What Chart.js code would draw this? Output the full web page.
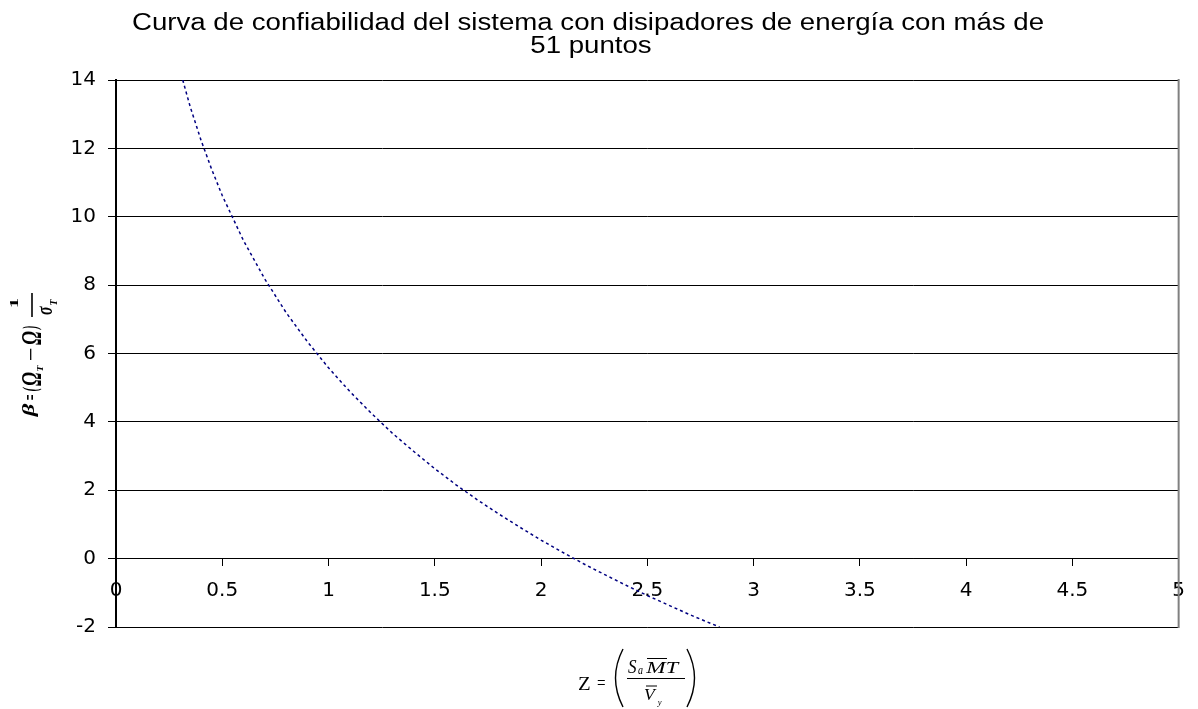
<!DOCTYPE html>
<html>
<head>
<meta charset="utf-8">
<script src="https://cdn.jsdelivr.net/npm/chart.js@4.4.1/dist/chart.umd.min.js"></script>
<style>
  html, body { margin: 0; padding: 0; background: #fff; }
  #wrap { width: 1198px; height: 709px; }
</style>
</head>
<body>
<div id="wrap"><canvas id="reliabilityChart" width="1198" height="709"></canvas></div>
<script>
// values
const zValues = [0.314, 0.35, 0.4, 0.45, 0.5, 0.6, 0.7, 0.8, 0.9, 1.0, 1.1, 1.2, 1.3, 1.4, 1.5,
  1.6, 1.7, 1.8, 1.9, 2.0, 2.1, 2.2, 2.3, 2.4, 2.5, 2.6, 2.7, 2.8, 2.84];
const betaValues = [14.0, 13.2, 12.24, 11.39, 10.62, 9.3, 8.18, 7.2, 6.35, 5.58, 4.89, 4.26, 3.67, 3.14, 2.63,
  2.16, 1.72, 1.31, 0.92, 0.54, 0.19, -0.15, -0.47, -0.78, -1.08, -1.36, -1.64, -1.9, -2.0];

const yTicks = [-2, 0, 2, 4, 6, 8, 10, 12, 14];
const xTicks = [0, 0.5, 1, 1.5, 2, 2.5, 3, 3.5, 4, 4.5, 5];

const titleLines = [
  "Curva de confiabilidad del sistema con disipadores de energía con más de",
  "51 puntos"
];

const points = zValues.map((z, i) => ({ x: z, y: betaValues[i] }));

// draw one glyph so its ink fills a box (screen coords); rotated = reads bottom to top
function fitGlyph(ctx, text, font, x0, y0, x1, y1, rotated) {
  ctx.save();
  ctx.font = font;
  ctx.textAlign = "left";
  ctx.textBaseline = "alphabetic";
  const m = ctx.measureText(text);
  const inkL = -m.actualBoundingBoxLeft, inkR = m.actualBoundingBoxRight;
  const inkT = -m.actualBoundingBoxAscent, inkB = m.actualBoundingBoxDescent;
  if (rotated) {
    ctx.translate(x0, y1);
    ctx.rotate(-Math.PI / 2);
    ctx.scale((y1 - y0) / (inkR - inkL), (x1 - x0) / (inkB - inkT));
  } else {
    ctx.translate(x0, y0);
    ctx.scale((x1 - x0) / (inkR - inkL), (y1 - y0) / (inkB - inkT));
  }
  ctx.fillText(text, -inkL, -inkT);
  ctx.restore();
}

function line(ctx, x0, y0, x1, y1, w) {
  ctx.lineWidth = w;
  ctx.beginPath();
  ctx.moveTo(x0, y0);
  ctx.lineTo(x1, y1);
  ctx.stroke();
}

const decorations = {
  id: "decorations",
  afterDraw(chart) {
    const ctx = chart.ctx;
    const area = chart.chartArea;

    // right edge of the plot frame
    ctx.save();
    ctx.strokeStyle = "#808080";
    line(ctx, area.right, area.top - 1, area.right, area.bottom + 1, 2);
    ctx.restore();

    // title (arial, a bit stretched like the original)
    ctx.save();
    ctx.fillStyle = "#000";
    ctx.font = '23px "Liberation Sans", Arial, sans-serif';
    ctx.textAlign = "left";
    ctx.textBaseline = "alphabetic";
    const w1 = ctx.measureText(titleLines[0]).width;
    const sx = 912 / w1;
    const w2 = ctx.measureText(titleLines[1]).width * sx;
    ctx.save();
    ctx.translate(132, 30);
    ctx.scale(sx, 1);
    ctx.fillText(titleLines[0], 0, 0);
    ctx.restore();
    ctx.save();
    ctx.translate(591 - w2 / 2, 53);
    ctx.scale(sx, 1);
    ctx.fillText(titleLines[1], 0, 0);
    ctx.restore();
    ctx.restore();

    // y axis title: β = (Ω_T − Ω) 1/σ_T  (rotated)
    ctx.save();
    ctx.fillStyle = "#000";
    ctx.strokeStyle = "#000";
    const bi = 'bold italic 28px "Liberation Serif", serif';
    const bs = 'bold italic 16px "Liberation Serif", serif';
    fitGlyph(ctx, "\u03b2", bi, 23, 403, 38, 417, true);
    fitGlyph(ctx, "=", bi, 27, 395, 33, 400, true);
    fitGlyph(ctx, "(", bi, 22, 387, 42, 391, true);
    fitGlyph(ctx, "\u03a9", bi, 22, 372, 41, 386, true);
    fitGlyph(ctx, "T", bs, 37, 365, 43, 371, true);
    fitGlyph(ctx, "\u2212", bi, 30, 348, 32, 360, true);
    fitGlyph(ctx, "\u03a9", bi, 22, 331, 41, 345, true);
    fitGlyph(ctx, ")", bi, 22, 326, 42, 330, true);
    line(ctx, 32, 293, 32, 317, 1.6);
    fitGlyph(ctx, "1", 'bold 16px "Liberation Serif", serif', 10, 298, 18, 307, true);
    fitGlyph(ctx, "\u03c3", bi, 40, 306, 52, 315, true);
    fitGlyph(ctx, "T", bs, 50, 299, 57, 305, true);
    ctx.restore();

    // x axis title: Z = ( S_a M̄ T / V̄_y )
    ctx.save();
    ctx.fillStyle = "#000";
    ctx.strokeStyle = "#000";
    const up = '19px "Liberation Serif", serif';
    const it = 'italic 19px "Liberation Serif", serif';
    const sub = 'italic 12px "Liberation Serif", serif';
    fitGlyph(ctx, "Z", up, 578, 677, 590, 690, false);
    fitGlyph(ctx, "=", up, 597, 680, 605, 685, false);
    ctx.lineWidth = 1.4;
    ctx.beginPath();
    ctx.moveTo(623, 649);
    ctx.quadraticCurveTo(608, 678, 623, 707);
    ctx.stroke();
    ctx.beginPath();
    ctx.moveTo(687, 649);
    ctx.quadraticCurveTo(702, 678, 687, 707);
    ctx.stroke();
    fitGlyph(ctx, "S", it, 628, 660, 637, 673, false);
    fitGlyph(ctx, "a", sub, 638, 668, 643, 674, false);
    fitGlyph(ctx, "M", it, 645, 661, 667, 673, false);
    line(ctx, 647, 658.5, 667, 658.5, 1);
    fitGlyph(ctx, "T", it, 667, 661, 680, 673, false);
    line(ctx, 627, 678.5, 685, 678.5, 1);
    fitGlyph(ctx, "V", it, 645, 688, 657, 700, false);
    line(ctx, 646, 686, 657, 686, 1);
    fitGlyph(ctx, "y", sub, 657, 701, 662, 707, false);
    ctx.restore();
  }
};

new Chart(document.getElementById("reliabilityChart"), {
  type: "line",
  data: {
    datasets: [{
      data: points,
      borderColor: "#000080",
      borderWidth: 1.5,
      borderDash: [3, 3],
      pointRadius: 0,
      fill: false,
      tension: 0
    }]
  },
  options: {
    responsive: false,
    animation: false,
    layout: { padding: { top: 80, right: 18, bottom: 82, left: 0 } },
    plugins: {
      legend: { display: false },
      title: { display: false },
      tooltip: { enabled: false }
    },
    scales: {
      x: {
        type: "linear",
        position: { y: 0 },
        min: 0,
        max: 5,
        afterBuildTicks: (axis) => { axis.ticks = xTicks.map(v => ({ value: v })); },
        ticks: {
          color: "#000",
          font: { family: '"DejaVu Sans", sans-serif', size: 20 },
          padding: 13,
          maxRotation: 0,
          autoSkip: false,
          callback: (v) => String(v)
        },
        grid: { drawOnChartArea: false, drawTicks: true, tickLength: 7, color: "#000" },
        border: { color: "#000", width: 1 }
      },
      y: {
        type: "linear",
        min: -2,
        max: 14,
        afterBuildTicks: (axis) => { axis.ticks = yTicks.map(v => ({ value: v })); },
        afterFit: (scale) => { scale.width = 116; },
        ticks: {
          color: "#000",
          font: { family: '"DejaVu Sans", sans-serif', size: 20 },
          padding: 12
        },
        grid: { color: "#000", lineWidth: 1, tickLength: 8, tickColor: "#000" },
        border: { color: "#000", width: 2 }
      }
    }
  },
  plugins: [decorations]
});
</script>
</body>
</html>
